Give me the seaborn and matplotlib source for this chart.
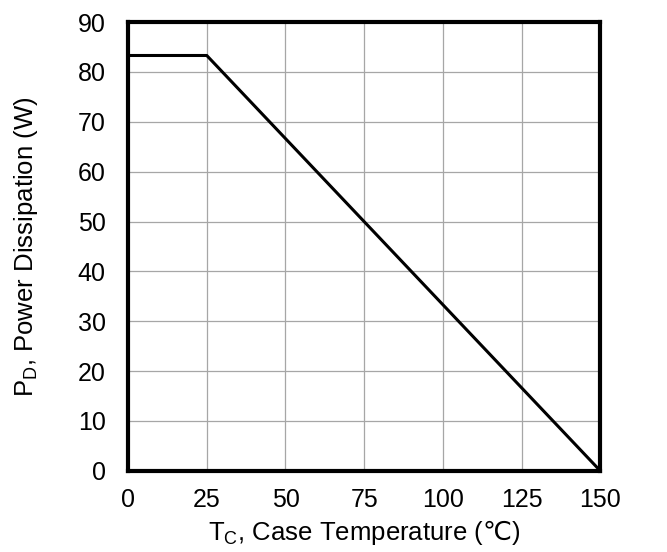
import matplotlib
matplotlib.use("Agg")
import matplotlib.pyplot as plt
import pandas as pd
import seaborn as sns

# Derating curve
case_temp = [0, 25, 150]
power_diss = [83.3, 83.3, 0]
x_ticks = [0, 25, 50, 75, 100, 125, 150]
y_ticks = [0, 10, 20, 30, 40, 50, 60, 70, 80, 90]

sns.set_style("white")
plt.rcParams['font.family'] = ['Liberation Sans', 'DejaVu Sans']
plt.rcParams['mathtext.default'] = 'regular'
plt.rcParams['mathtext.fontset'] = 'dejavusans'

df = pd.DataFrame({"Tc": case_temp, "Pd": power_diss})

fig, ax = plt.subplots(figsize=(6.67, 5.52), dpi=100)
fig.subplots_adjust(left=0.192, right=0.900, top=0.960, bottom=0.147)

sns.lineplot(data=df, x="Tc", y="Pd", ax=ax, color="black", linewidth=2.2)

ax.set_xlim(0, 150)
ax.set_ylim(0, 90)
ax.set_xticks(x_ticks)
ax.set_yticks(y_ticks)
ax.grid(True, color="#a6a6a6", linewidth=0.9)
ax.set_axisbelow(True)
ax.tick_params(length=0, labelsize=18, colors="black")
ax.tick_params(axis="y", pad=16)
ax.tick_params(axis="x", pad=12)

for side in ax.spines.values():
    side.set_color("black")
    side.set_linewidth(3)

ax.set_xlabel("T$_C$, Case Temperature ($\\mathrm{\u2103}$)",
              fontsize=18.5, labelpad=5, color="black")
ax.set_ylabel("P$_D$, Power Dissipation (W)", fontsize=18.5, labelpad=27,
              color="black")

plt.savefig("out.png", dpi=100)
